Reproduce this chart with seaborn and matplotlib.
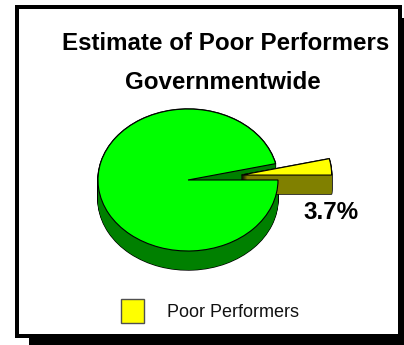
import matplotlib
matplotlib.use("Agg")
import matplotlib.pyplot as plt
from matplotlib.patches import Patch, Rectangle
import pandas as pd
import seaborn as sns

# Share of federal employees, in percent
categories = ["Poor Performers", "Other Employees"]
shares = [3.7, 96.3]
value_label = "3.7%"
title_lines = ["Estimate of Poor Performers", "Governmentwide"]

top_colors = ["#FFFF00", "#00FF00"]
side_colors = ["#808000", "#008000"]

W, H = 404, 345
CX, CY, RX, RY = 188, 180, 90, 71
DEPTH = 19
LAYERS = 20

sns.set_theme(style="white")
plt.rcParams["font.family"] = ["Liberation Sans", "DejaVu Sans"]

data = pd.DataFrame({"category": categories, "share": shares})

fig = plt.figure(figsize=(W / 100, H / 100), dpi=100, facecolor="white")
ax = fig.add_axes([0, 0, 1, 1])


def px(x0, y0, x1, y1, color, z):
    """Add a rectangle given in pixel coordinates measured from the top left."""
    ax.add_patch(Rectangle((x0 / W, 1 - y1 / H), (x1 - x0) / W, (y1 - y0) / H,
                           transform=ax.transAxes, facecolor=color,
                           edgecolor="none", zorder=0))


# Card with a drop shadow
px(29, 18, 404, 345, "black", 0)
px(15, 5, 402, 338, "black", 0)
px(19, 9, 398, 334, "white", 0)


def layer(index, offset, color, edge, lw):
    """Draw one slice of the pie, lowered by the given offset."""
    explode = [0.6, 0]
    colors = ["none", "none"]
    colors[index] = color
    edges = ["none", "none"]
    edges[index] = edge
    wedges, _ = ax.pie(data["share"], explode=explode, colors=colors,
                       startangle=0, center=(0, -offset / RY), radius=1,
                       wedgeprops={"linewidth": lw})
    for i, wedge in enumerate(wedges):
        wedge.set_edgecolor(edges[i])
        wedge.set_zorder(2)
        if i != index:
            wedge.set_visible(False)


offsets = [DEPTH * i / (LAYERS - 1) for i in range(LAYERS)]

# Side walls are stacked slices: an outlined pass leaves the silhouette,
# a flat pass fills it in. The large slice goes first, the small one over it.
for index in (1, 0):
    for off in offsets:
        layer(index, off, side_colors[index], "black", 1.0)
    for off in offsets:
        layer(index, off, side_colors[index], "none", 0)

layer(0, 0, top_colors[0], "black", 0.8)
layer(1, 0, top_colors[1], "black", 0.8)

ax.set_aspect("auto")
ax.set_xlim(-CX / RX, (W - CX) / RX)
ax.set_ylim((CY - H) / RY, CY / RY)
ax.axis("off")


def label(x, y, text, **kw):
    ax.text(x / W, 1 - y / H, text, transform=ax.transAxes, ha="center",
            va="center", color="black", zorder=5, **kw)


label(225.5, 43.5, title_lines[0], fontsize=17.4, fontweight="bold")
label(222.5, 82.5, title_lines[1], fontsize=17.4, fontweight="bold")
label(331.5, 212, value_label, fontsize=17.4, fontweight="bold")

handle = Patch(facecolor=top_colors[0], edgecolor="#505050", linewidth=1)
ax.legend([handle], categories[:1], loc="center left",
          bbox_to_anchor=(121 / W, 1 - 311 / H), frameon=False, fontsize=13,
          handlelength=1.27, handleheight=1.65, handletextpad=1.27,
          borderpad=0, borderaxespad=0, labelcolor="#111111")

fig.savefig("out.png", dpi=100)
